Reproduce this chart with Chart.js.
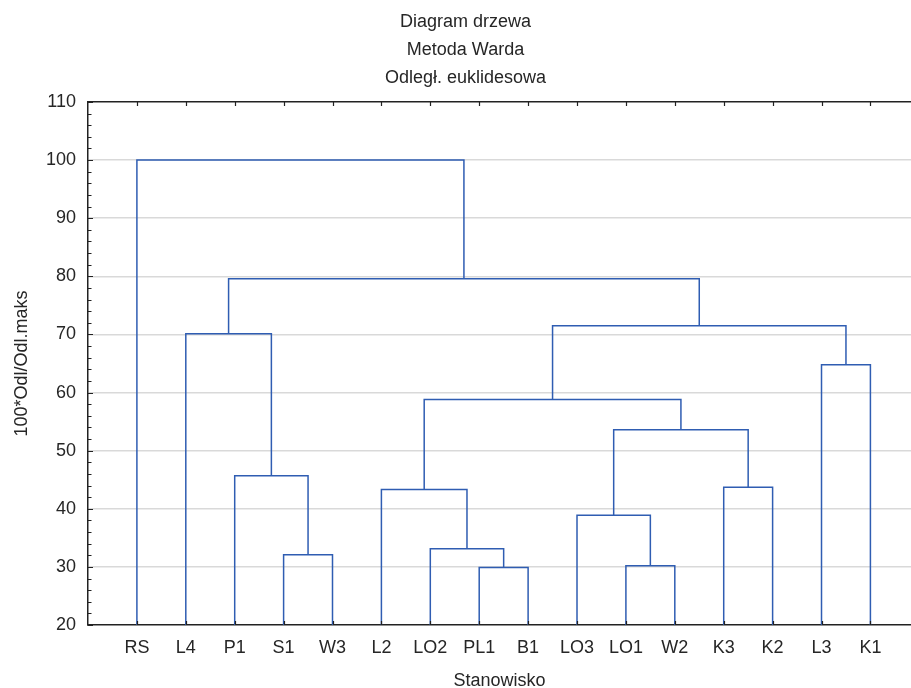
<!DOCTYPE html>
<html lang="pl">
<head>
<meta charset="utf-8">
<title>Diagram drzewa</title>
<script src="https://cdn.jsdelivr.net/npm/chart.js@4.4.1/dist/chart.umd.min.js"></script>
<style>
    html, body { margin: 0; padding: 0; background: #fff; }
    #wrap { width: 911px; height: 688px; }
</style>
</head>
<body>
<div id="wrap"><canvas id="treeChart" width="911" height="688"></canvas></div>
<script>
/* DATA */
const leafLabels = ["RS", "L4", "P1", "S1", "W3", "L2", "LO2", "PL1", "B1", "LO3", "LO1", "W2", "K3", "K2", "L3", "K1"];

// linkage: ids 0-15 are leaves, merge i becomes cluster 16 + i
const mergeA = [3, 7, 10, 6, 9, 5, 12, 2, 20, 21, 14, 1, 25, 27, 0];
const mergeB = [4, 8, 11, 17, 18, 19, 13, 16, 22, 24, 15, 23, 26, 28, 29];
const mergeHeight = [32.1, 29.9, 30.2, 33.1, 38.9, 43.3, 43.7, 45.7, 53.6, 58.8, 64.8, 70.1, 71.5, 79.6, 100.0];

const yTicks = [20, 30, 40, 50, 60, 70, 80, 90, 100, 110];

const titleLines = ["Diagram drzewa", "Metoda Warda", "Odległ. euklidesowa"];
const xTitle = "Stanowisko";
const yTitle = "100*Odl/Odl.maks";


/* STYLE */
const FONT = "'Liberation Sans', Arial, sans-serif";
const FS = 18;
const TEXT = "#262626";
const LINK = "#2f5db2";
const Y_MIN = yTicks[0];
const Y_MAX = yTicks[yTicks.length - 1];
const X_MAX = 16.83;


/* BUILD LINK SEGMENTS */
function buildLinks() {
    const pos = leafLabels.map((_, i) => i + 1);
    const hgt = leafLabels.map(() => Y_MIN);
    const sets = [];

    mergeA.forEach((a, i) => {
        const b = mergeB[i];
        const h = mergeHeight[i];

        sets.push({
            data: [
                { x: pos[a], y: hgt[a] },
                { x: pos[a], y: h },
                { x: pos[b], y: h },
                { x: pos[b], y: hgt[b] }
            ],
            borderColor: LINK,
            borderWidth: 1.5,
            pointRadius: 0,
            showLine: true,
            fill: false,
            tension: 0
        });

        pos.push((pos[a] + pos[b]) / 2);
        hgt.push(h);
    });

    return sets;
}


/* TICK MARKS (inside the frame) */
const tickMarks = {
    id: "tickMarks",
    afterDraw(chart) {
        const { ctx, chartArea: a, scales } = chart;
        ctx.save();
        ctx.strokeStyle = "#222";
        ctx.lineWidth = 1.2;
        ctx.beginPath();

        for (let v = Y_MIN; v <= Y_MAX; v += 2) {
            const y = Math.round(scales.y.getPixelForValue(v)) + 0.5;
            const len = v % 10 === 0 ? 5 : 3.5;
            ctx.moveTo(a.left, y);
            ctx.lineTo(a.left + len, y);
        }

        leafLabels.forEach((_, i) => {
            const x = Math.round(scales.x.getPixelForValue(i + 1)) + 0.5;
            ctx.moveTo(x, a.bottom);
            ctx.lineTo(x, a.bottom - 4);
            ctx.moveTo(x, a.top);
            ctx.lineTo(x, a.top + 4);
        });

        ctx.stroke();
        ctx.restore();
    }
};


/* CHART */
function drawTree() {
    const ctx = document.getElementById("treeChart").getContext("2d");

    new Chart(ctx, {
        type: "scatter",
        data: { datasets: buildLinks() },
        plugins: [tickMarks],
        options: {
            responsive: false,
            animation: false,
            devicePixelRatio: 1,
            layout: { padding: { left: 20, right: 0, top: 0, bottom: 0 } },
            plugins: {
                legend: { display: false },
                tooltip: { enabled: false },
                title: {
                    display: true,
                    text: titleLines,
                    color: TEXT,
                    font: { family: FONT, size: FS, weight: "normal", lineHeight: 1.54 },
                    padding: { top: 8.5, bottom: 0 }
                }
            },
            scales: {
                x: {
                    type: "linear",
                    position: "bottom",
                    min: 0,
                    max: X_MAX,
                    afterFit: s => {
                        s.height = 63;
                        s.paddingLeft = 0;
                        s.paddingRight = 0;
                    },
                    grid: { color: "transparent", drawTicks: false },
                    border: { color: "#222", width: 1.5 },
                    ticks: {
                        stepSize: 1,
                        includeBounds: false,
                        autoSkip: false,
                        maxRotation: 0,
                        padding: 12,
                        color: TEXT,
                        font: { family: FONT, size: FS },
                        callback: v => (Number.isInteger(v) && v >= 1 && v <= leafLabels.length) ? leafLabels[v - 1] : ""
                    },
                    title: {
                        display: true,
                        text: xTitle,
                        color: TEXT,
                        font: { family: FONT, size: FS, lineHeight: 0.75 },
                        padding: { top: 0, bottom: 0 }
                    }
                },
                x2: {
                    type: "linear",
                    position: "top",
                    min: 0,
                    max: X_MAX,
                    afterFit: s => {
                        s.height = 10.3;
                        s.paddingLeft = 0;
                        s.paddingRight = 0;
                    },
                    grid: { drawOnChartArea: false, drawTicks: false },
                    border: { color: "#222", width: 1.5 },
                    ticks: { display: false, includeBounds: false }
                },
                y: {
                    min: Y_MIN,
                    max: Y_MAX,
                    afterFit: s => { s.width = 68; },
                    grid: {
                        drawTicks: false,
                        lineWidth: 1.5,
                        color: c => (c.tick && c.tick.value % 10 === 0 && c.tick.value > Y_MIN && c.tick.value < Y_MAX) ? "#d9d9d9" : "transparent"
                    },
                    border: { color: "#222", width: 1.5 },
                    ticks: {
                        stepSize: 2,
                        autoSkip: false,
                        padding: 12,
                        color: TEXT,
                        font: { family: FONT, size: FS },
                        callback: v => yTicks.includes(v) ? v : ""
                    },
                    title: {
                        display: true,
                        text: yTitle,
                        color: TEXT,
                        font: { family: FONT, size: FS, lineHeight: 1.2 },
                        padding: { top: -9, bottom: 0 }
                    }
                }
            }
        }
    });
}


document.addEventListener("DOMContentLoaded", drawTree);
</script>
</body>
</html>
